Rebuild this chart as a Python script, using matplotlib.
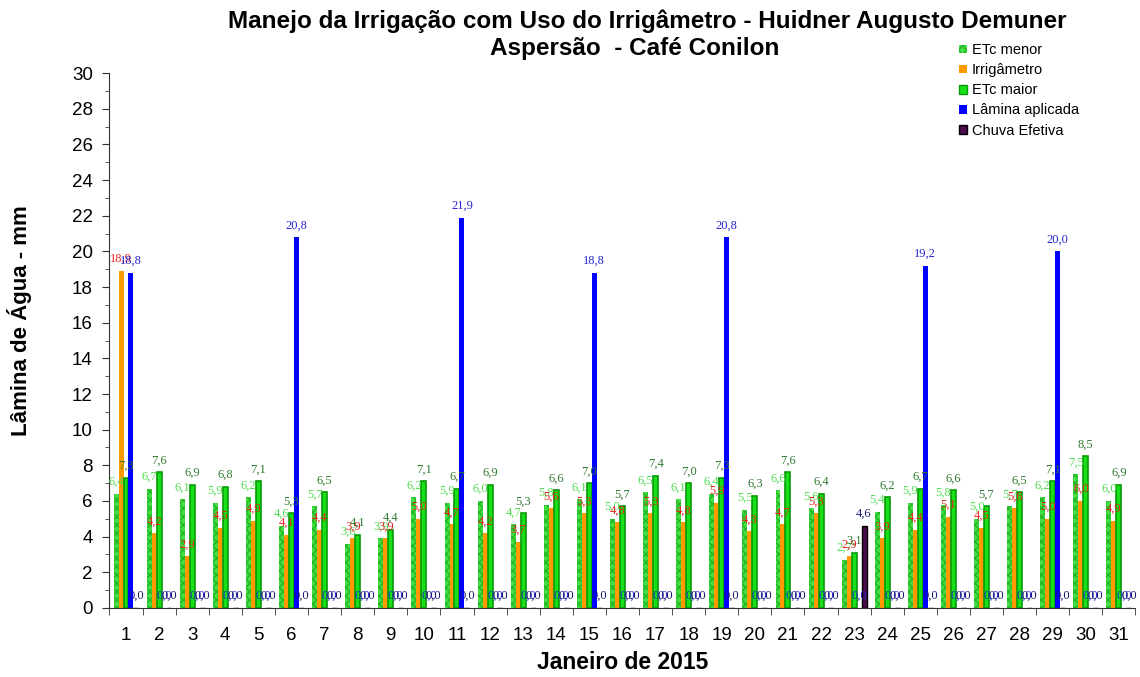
import matplotlib
matplotlib.use("Agg")
import matplotlib.pyplot as plt
from matplotlib.patches import Patch
from matplotlib.ticker import MultipleLocator
import numpy as np

plt.rcParams['font.family'] = ['Liberation Sans', 'DejaVu Sans']
plt.rcParams['hatch.linewidth'] = 0.9

dias = list(range(1, 32))
etc_menor = [6.4, 6.7, 6.1, 5.9, 6.2, 4.6, 5.7, 3.6, 3.9, 6.2, 5.9, 6.0, 4.7, 5.8, 6.1, 5.0,
             6.5, 6.1, 6.4, 5.5, 6.6, 5.6, 2.7, 5.4, 5.9, 5.8, 5.0, 5.7, 6.2, 7.5, 6.0]
irrigametro = [18.9, 4.2, 2.9, 4.5, 4.9, 4.1, 4.4, 3.9, 3.9, 5.0, 4.7, 4.2, 3.7, 5.6, 5.3, 4.8,
               5.3, 4.8, 5.9, 4.3, 4.7, 5.3, 2.9, 3.9, 4.4, 5.1, 4.5, 5.6, 5.0, 6.0, 4.9]
etc_maior = [7.3, 7.6, 6.9, 6.8, 7.1, 5.3, 6.5, 4.1, 4.4, 7.1, 6.7, 6.9, 5.3, 6.6, 7.0, 5.7,
             7.4, 7.0, 7.3, 6.3, 7.6, 6.4, 3.1, 6.2, 6.7, 6.6, 5.7, 6.5, 7.1, 8.5, 6.9]
lamina = [18.8, 0, 0, 0, 0, 20.8, 0, 0, 0, 0, 21.9, 0, 0, 0, 18.8, 0,
          0, 0, 20.8, 0, 0, 0, 0, 0, 19.2, 0, 0, 0, 20.0, 0, 0]
chuva = [0, 0, 0, 0, 0, 0, 0, 0, 0, 0, 0, 0, 0, 0, 0, 0,
         0, 0, 0, 0, 0, 0, 4.6, 0, 0, 0, 0, 0, 0, 0, 0]

fig = plt.figure(figsize=(11.4, 6.77), dpi=100)
ax = fig.add_axes([0.096, 0.102, 0.9, 0.79])

x = np.array(dias)
w = 0.15

def fmt(v):
    return f"{v:.1f}".replace('.', ',')

def rotular(xs, vals, cor):
    for xi, v in zip(xs, vals):
        ax.annotate(fmt(v), (xi, v), xytext=(0, 8.5), textcoords='offset points',
                    ha='center', va='center', fontsize=9, color=cor,
                    family='Liberation Serif', zorder=10)

b1 = ax.bar(x - 2 * w, etc_menor, w, color='#3fe03f', edgecolor='#25b025',
            hatch='xxxx', linewidth=0, zorder=2)
b2 = ax.bar(x - w, irrigametro, w, color='#ff9900', linewidth=0, zorder=2)
b3 = ax.bar(x, etc_maior, w, color='#18e018', edgecolor='#079b07', linewidth=1.2, zorder=2)
b4 = ax.bar(x + w, lamina, w, color='#0000ff', linewidth=0, zorder=2)
b5 = ax.bar(x + 2 * w, chuva, w, color='#4d0a4d', edgecolor='#000000', linewidth=1, zorder=2)

rotular(x - 2 * w, etc_menor, '#4fdc4f')
rotular(x - w, irrigametro, '#e8231e')
rotular(x, etc_maior, '#2f7a2f')
rotular(x + w, lamina, '#2525d0')
rotular(x + 2 * w, chuva, '#1a1a70')

ax.set_xlim(0.5, 31.5)
ax.set_ylim(0, 30)
ax.yaxis.set_major_locator(MultipleLocator(2))
ax.yaxis.set_minor_locator(MultipleLocator(1))
ax.set_xticks(x)
ax.set_xticklabels([str(d) for d in dias], fontsize=13.5)
ax.set_xticks(np.arange(0.5, 32, 1), minor=True)
ax.tick_params(axis='x', which='major', length=0, pad=14)
ax.tick_params(axis='x', which='minor', length=5, direction='out', color='#333333')
ax.tick_params(axis='y', which='major', length=5, pad=7, labelsize=13.5, color='#333333')
ax.tick_params(axis='y', which='minor', length=3, color='#333333')
for s in ['top', 'right']:
    ax.spines[s].set_visible(False)
for s in ['left', 'bottom']:
    ax.spines[s].set_color('#333333')

fig.text(0.0175, 0.527, 'Lâmina de Água - mm', rotation=90, ha='center', va='center',
         fontsize=16, fontweight='bold')
fig.text(0.546, 0.021, 'Janeiro de 2015', ha='center', va='center',
         fontsize=16.5, fontweight='bold')

fig.text(0.5675, 0.968, 'Manejo da Irrigação com Uso do Irrigâmetro - Huidner Augusto Demuner',
         ha='center', va='center', fontsize=17.5, fontweight='bold')
fig.text(0.557, 0.929, 'Aspersão  - Café Conilon',
         ha='center', va='center', fontsize=17.5, fontweight='bold')

handles = [
    Patch(facecolor='#3fe03f', edgecolor='#25b025', hatch='xxxx', linewidth=0),
    Patch(facecolor='#ff9900', linewidth=0),
    Patch(facecolor='#18e018', edgecolor='#079b07', linewidth=1),
    Patch(facecolor='#0000ff', linewidth=0),
    Patch(facecolor='#4d0a4d', edgecolor='#000000', linewidth=1),
]
nomes = ['ETc menor', 'Irrigâmetro', 'ETc maior', 'Lâmina aplicada', 'Chuva Efetiva']
fig.legend(handles, nomes, loc='upper left', bbox_to_anchor=(0.836, 0.945),
           frameon=False, fontsize=10.5, handlelength=0.55, handleheight=0.55,
           handletextpad=0.35, labelspacing=0.42, borderaxespad=0)

fig.savefig('out.png', dpi=100)
